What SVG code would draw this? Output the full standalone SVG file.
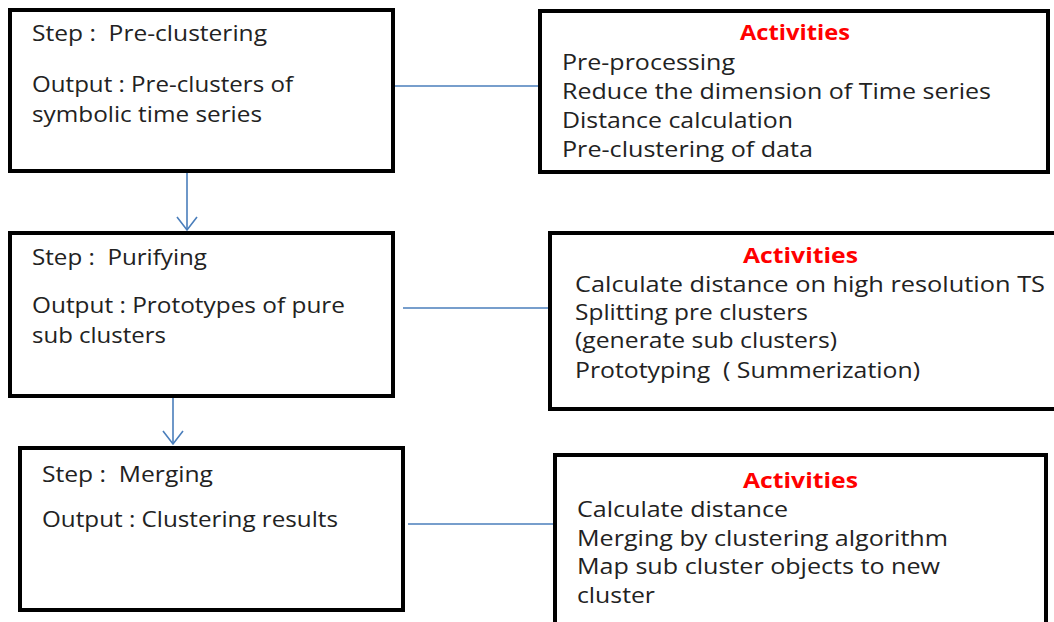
<svg xmlns="http://www.w3.org/2000/svg" width="1054" height="622" viewBox="0 0 1054 622">
  <style>
    .box { fill: #ffffff; stroke: #000000; stroke-width: 4; }
    .txt { font-family: "Open Sans", "Liberation Sans", sans-serif; font-size: 21px; fill: #222222; white-space: pre; }
    .head { font-family: "Open Sans", "Liberation Sans", sans-serif; font-size: 21px; font-weight: bold; fill: #ff0000; }
    .link { fill: none; stroke: #4a7ebb; stroke-width: 1.6; }
  </style>
  <defs>
    <marker id="vee" markerUnits="userSpaceOnUse" markerWidth="30" markerHeight="30" refX="0" refY="0" orient="auto" overflow="visible">
      <path d="M-13,-10 L0,0 L-13,10" fill="none" stroke="#4a7ebb" stroke-width="1.6"/>
    </marker>
  </defs>

  <rect width="1054" height="622" fill="#ffffff"/>

  <!-- connectors -->
  <g id="connectors">
    <line class="link" x1="395" y1="86" x2="538" y2="86"/>
    <line class="link" x1="403" y1="308" x2="548" y2="308"/>
    <line class="link" x1="408" y1="524" x2="553" y2="524"/>
    <line class="link" x1="187" y1="173" x2="187" y2="230" marker-end="url(#vee)"/>
    <line class="link" x1="173" y1="387" x2="173" y2="444" marker-end="url(#vee)"/>
  </g>

  <!-- step: pre-clustering -->
  <g id="step-preclustering">
    <rect class="box" x="10" y="10" width="383" height="161"/>
    <text class="txt" x="32" y="41" textLength="235" lengthAdjust="spacingAndGlyphs">Step :  Pre-clustering</text>
    <text class="txt" x="32" y="92" textLength="261" lengthAdjust="spacingAndGlyphs">Output : Pre-clusters of</text>
    <text class="txt" x="32" y="122" textLength="230" lengthAdjust="spacingAndGlyphs">symbolic time series</text>
  </g>

  <!-- activities of pre-clustering -->
  <g id="activities-preclustering">
    <rect class="box" x="540" y="11" width="508" height="161"/>
    <text class="head" x="740" y="40" textLength="110" lengthAdjust="spacingAndGlyphs">Activities</text>
    <text class="txt" x="562" y="70" textLength="173" lengthAdjust="spacingAndGlyphs">Pre-processing</text>
    <text class="txt" x="562" y="99" textLength="429" lengthAdjust="spacingAndGlyphs">Reduce the dimension of Time series</text>
    <text class="txt" x="562" y="128" textLength="231" lengthAdjust="spacingAndGlyphs">Distance calculation</text>
    <text class="txt" x="562" y="157" textLength="251" lengthAdjust="spacingAndGlyphs">Pre-clustering of data</text>
  </g>

  <!-- step: purifying -->
  <g id="step-purifying">
    <rect class="box" x="10" y="233" width="383" height="163"/>
    <text class="txt" x="32" y="265" textLength="175" lengthAdjust="spacingAndGlyphs">Step :  Purifying</text>
    <text class="txt" x="32" y="313" textLength="313" lengthAdjust="spacingAndGlyphs">Output : Prototypes of pure</text>
    <text class="txt" x="32" y="343" textLength="134" lengthAdjust="spacingAndGlyphs">sub clusters</text>
  </g>

  <!-- activities of purifying -->
  <g id="activities-purifying">
    <rect class="box" x="550" y="233" width="520" height="176"/>
    <text class="head" x="743" y="263" textLength="115" lengthAdjust="spacingAndGlyphs">Activities</text>
    <text class="txt" x="575" y="292" textLength="470" lengthAdjust="spacingAndGlyphs">Calculate distance on high resolution TS</text>
    <text class="txt" x="575" y="320" textLength="233" lengthAdjust="spacingAndGlyphs">Splitting pre clusters</text>
    <text class="txt" x="575" y="348" textLength="262" lengthAdjust="spacingAndGlyphs">(generate sub clusters)</text>
    <text class="txt" x="575" y="378" textLength="345" lengthAdjust="spacingAndGlyphs">Prototyping  ( Summerization)</text>
  </g>

  <!-- step: merging -->
  <g id="step-merging">
    <rect class="box" x="20" y="448" width="383" height="162"/>
    <text class="txt" x="42" y="482" textLength="171" lengthAdjust="spacingAndGlyphs">Step :  Merging</text>
    <text class="txt" x="42" y="527" textLength="296" lengthAdjust="spacingAndGlyphs">Output : Clustering results</text>
  </g>

  <!-- activities of merging -->
  <g id="activities-merging">
    <rect class="box" x="555" y="455" width="491" height="170"/>
    <text class="head" x="743" y="488" textLength="115" lengthAdjust="spacingAndGlyphs">Activities</text>
    <text class="txt" x="577" y="517" textLength="211" lengthAdjust="spacingAndGlyphs">Calculate distance</text>
    <text class="txt" x="577" y="546" textLength="371" lengthAdjust="spacingAndGlyphs">Merging by clustering algorithm</text>
    <text class="txt" x="577" y="574" textLength="363" lengthAdjust="spacingAndGlyphs">Map sub cluster objects to new</text>
    <text class="txt" x="577" y="603" textLength="78" lengthAdjust="spacingAndGlyphs">cluster</text>
  </g>
</svg>
